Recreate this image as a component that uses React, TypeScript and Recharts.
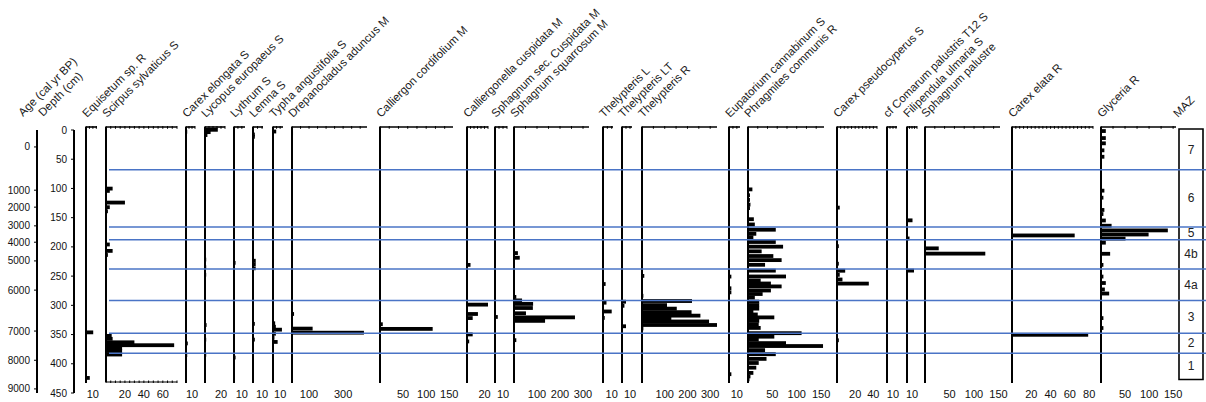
import React from "react";
import {
  BarChart,
  Bar,
  XAxis,
  YAxis,
  ReferenceArea,
  Scatter,
  ComposedChart,
} from "recharts";

const FONT = "'Liberation Sans', Arial, Helvetica, sans-serif";
const W = 1206;
const H = 402;
// shared vertical frame of the taxon panels
const PLOT_TOP = 127;
const PLOT_BOTTOM = 383;
const DEPTH_DOMAIN: [number, number] = [-5, 433];
// frame of the age / depth scales on the left
const AXIS_TOP = 130;
const AXIS_BOTTOM = 393;
const AXIS_DOMAIN: [number, number] = [0, 450];
const ZONE_BLUE = "#4a74c6";

// ---- macrofossil counts, [depth cm, value] ----
const equisetum = [[346, 10.5], [424, 5.5]];
const scirpus = [
  [101, 7], [105, 4], [125, 20], [133, 4], [140, 2], [197, 4], [208, 7], [215, 2], [263, 1],
  [354, 6], [359, 7], [365, 30], [370, 72], [375, 17], [380, 17], [386, 17], [392, 1], [398, 1],
];
const carexElongata = [[3, 2], [145, 1], [365, 3], [385, 2]];
const lycopus = [
  [0, 16], [4, 7], [9, 3], [137, 1], [222, 1.5], [235, 1.5], [248, 1.5], [334, 2], [359, 1.5], [385, 1.5],
];
const lythrum = [[228, 2], [390, 2]];
const lemna = [[8, 2], [12, 2], [224, 3], [230, 3], [237, 3], [332, 2], [359, 2]];
const typha = [[3, 4.5], [263, 1], [331, 3], [337, 4], [342, 12.5], [349, 4], [356, 2], [363, 6.5]];
const drepanocladus = [[6, 6], [315, 12], [333, 6], [340, 121], [347, 422]];
const calliergon = [[333, 6], [341, 114]];
const calliergonella = [[231, 4], [299, 24], [315, 12.5], [322, 6.5], [350, 6.5], [362, 2.5]];
const sphagnumCuspidata = [[320, 3.5]];
const sphagnumSquarrosum = [
  [211, 17], [219, 25], [286, 10], [292, 35], [298, 83], [305, 82], [314, 52], [321, 265], [327, 135], [360, 10],
];
const thelypterisL = [[264, 3], [296, 4], [311, 10], [322, 2]];
const thelypterisLT = [[294, 5], [301, 3], [336, 5]];
const thelypterisR = [
  [140, 4], [182, 4], [199, 4], [208, 4], [220, 4], [250, 10], [276, 4], [284, 6],
  [293, 220], [300, 110], [306, 153], [312, 218], [318, 257], [323, 129], [328, 295], [334, 330], [340, 6],
];
const eupatorium = [[251, 3], [271, 3], [278, 3], [418, 3]];
const phragmites = [
  [102, 9], [112, 4], [120, 4], [128, 5], [134, 4], [153, 12], [162, 14], [171, 57], [178, 17], [184, 11],
  [192, 57], [200, 72], [208, 28], [216, 52], [223, 69], [231, 35], [241, 57], [251, 78], [258, 26], [263, 47],
  [268, 69], [275, 47], [281, 30], [287, 14], [294, 23], [300, 23], [306, 23], [311, 11], [316, 20], [321, 54],
  [327, 23], [333, 22], [339, 26], [348, 110], [354, 54], [359, 22], [365, 78], [370, 154], [377, 35], [384, 57],
  [392, 38], [399, 22], [407, 17], [416, 11], [422, 5], [427, 3],
];
const carexPseudocyperus = [[133, 3], [199, 2], [229, 2], [241, 9], [248, 3], [256, 6], [263, 35], [360, 2]];
const comarum: number[][] = [];
const filipendula = [[99, 1.5], [128, 1.5], [154, 11], [185, 5], [240, 14]];
const sphagnumPalustre = [[202, 28], [211, 123]];
const carexElata = [[180, 65], [350, 79]];
const glyceria = [
  [2, 10], [14, 10], [23, 10], [35, 7], [46, 7], [104, 7], [116, 5], [137, 7], [144, 5], [155, 10],
  [164, 22], [172, 139], [179, 99], [186, 51], [193, 10], [204, 2], [212, 19], [231, 5], [251, 5],
  [262, 10], [273, 8], [280, 17], [322, 5], [339, 5],
];

const taxa = [
  "Equisetum sp. R", "Scirpus sylvaticus S", "Carex elongata S", "Lycopus europaeus S", "Lythrum S",
  "Lemna S", "Typha angustifolia S", "Drepanocladus aduncus M", "Calliergon cordifolium M",
  "Calliergonella cuspidata M", "Sphagnum sec. Cuspidata M", "Sphagnum squarrosum M", "Thelypteris L",
  "Thelypteris LT", "Thelypteris R", "Eupatorium cannabinum S", "Phragmites communis R",
  "Carex pseudocyperus S", "cf Comarum palustris T12 S", "Filipendula ulmaria S", "Sphagnum palustre",
  "Carex elata R", "Glyceria R",
];
const counts = [
  equisetum, scirpus, carexElongata, lycopus, lythrum, lemna, typha, drepanocladus, calliergon,
  calliergonella, sphagnumCuspidata, sphagnumSquarrosum, thelypterisL, thelypterisLT, thelypterisR,
  eupatorium, phragmites, carexPseudocyperus, comarum, filipendula, sphagnumPalustre, carexElata, glyceria,
];
const axisMax = [16, 75, 15, 25, 14, 11, 14, 440, 158, 24, 15, 326, 11.5, 12.5, 330, 14, 156, 44, 16.7, 20, 153, 84, 156];
const tickLabels = [
  [10], [20, 40, 60], [10], [20], [10], [10], [10], [100, 300], [50, 100, 150], [20], [10], [100, 200, 300],
  [10], [10], [100, 200, 300], [10], [50, 100, 150], [20, 40], [10], [10], [50, 100, 150], [20, 40, 60, 80],
  [50, 100, 150],
];
const tickStep = [5, 5, 5, 5, 5, 5, 5, 50, 20, 4, 5, 50, 5, 5, 50, 5, 20, 4, 5, 5, 20, 4, 25];

// age-depth model ticks
const ageLabels = [0, 1000, 2000, 3000, 4000, 5000, 6000, 7000, 8000, 9000];
const ageDepths = [29, 103, 132, 164, 192, 224, 274, 344, 394, 443];
const depthTicks = [0, 50, 100, 150, 200, 250, 300, 350, 400, 450];

// zone boundaries (cm) and names
const zoneBounds = [68, 166, 188, 238, 292, 348, 382];
const zoneNames = ["7", "6", "5", "4b", "4a", "3", "2", "1"];
const zoneBase = 427;

// panel placement: [left, right] px
const panelX = [
  [86, 97], [106, 177], [186, 195], [205, 225], [234, 245], [253, 263], [273, 283], [292, 367], [380, 453],
  [467, 488], [495, 507], [514, 589], [603, 613], [622, 632], [642, 717], [729, 740], [748, 824], [837, 877],
  [887, 897], [907, 917], [925, 1000], [1012, 1093], [1101, 1176],
];

const BAR_H = 3.8;
const DepthBar = (p: any) => {
  const w = Math.max(0, p.width || 0);
  if (!w) return <g />;
  return <rect x={p.x} y={p.y + p.height / 2 - BAR_H / 2} width={w} height={BAR_H} fill="#000" />;
};

// small downward tick under the top scale line
const TopTick = (p: any) => (
  <line x1={p.x} x2={p.x} y1={PLOT_TOP - 1} y2={PLOT_TOP + 1.8} stroke="#000" strokeWidth={1} />
);
// small upward tick on the base line
const BaseTick = (p: any) => (
  <line x1={p.x} x2={p.x} y1={PLOT_BOTTOM} y2={PLOT_BOTTOM - 2.5} stroke="#000" strokeWidth={1} />
);

function Panel({ i }: { i: number }) {
  const pad = 12;
  const [left, right] = panelX[i];
  const max = axisMax[i];
  const data = counts[i].map(([depth, value]) => ({ depth, value }));
  const minor: number[] = [];
  for (let v = 0; v <= max + 1e-6; v += tickStep[i]) minor.push(v);
  const withBase = i === 1;
  return (
    <div style={{ position: "absolute", left: left - pad, top: 0 }}>
      <BarChart
        width={right - left + pad * 2}
        height={H}
        layout="vertical"
        data={data}
        margin={{ top: PLOT_TOP - 1, right: pad, bottom: H - PLOT_BOTTOM - 1, left: pad - 1 }}
      >
        <XAxis
          xAxisId="top"
          orientation="top"
          type="number"
          domain={[0, max]}
          ticks={minor}
          interval={0}
          height={1}
          tick={TopTick}
          tickLine={false}
          axisLine={{ stroke: "#000", strokeWidth: 1.6 }}
          allowDataOverflow
        />
        {withBase && (
          <XAxis
            xAxisId="base"
            orientation="bottom"
            type="number"
            domain={[0, max]}
            ticks={minor}
            interval={0}
            height={1}
            tick={BaseTick}
            tickLine={false}
            axisLine={{ stroke: "#000", strokeWidth: 1.2 }}
            allowDataOverflow
          />
        )}
        <XAxis
          xAxisId="bottom"
          orientation="bottom"
          type="number"
          domain={[0, max]}
          ticks={tickLabels[i]}
          interval={0}
          height={1}
          axisLine={false}
          tickLine={false}
          tickSize={0}
          tickMargin={7}
          tick={{ fontSize: 11, fill: "#111", fontFamily: FONT }}
          allowDataOverflow
        />
        <YAxis
          type="number"
          dataKey="depth"
          domain={DEPTH_DOMAIN}
          width={1}
          tick={false}
          tickLine={false}
          axisLine={{ stroke: "#000", strokeWidth: 2 }}
          allowDataOverflow
        />
        <Bar xAxisId="top" dataKey="value" barSize={4} isAnimationActive={false} shape={DepthBar} />
      </BarChart>
    </div>
  );
}

function ScaleAxis({ x, width, ticks, format }: { x: number; width: number; ticks: number[]; format: (v: number) => string }) {
  const rows = ticks.map((depth) => ({ depth, v: 0 }));
  return (
    <div style={{ position: "absolute", left: x - width - 2, top: 0 }}>
      <ComposedChart
        width={width + 6}
        height={H}
        layout="vertical"
        data={rows}
        margin={{ top: AXIS_TOP, right: 4, bottom: H - AXIS_BOTTOM, left: 2 }}
      >
        <XAxis type="number" domain={[0, 1]} hide />
        <YAxis
          type="number"
          dataKey="depth"
          domain={AXIS_DOMAIN}
          ticks={ticks}
          interval={0}
          width={width}
          tickSize={3}
          tickMargin={4}
          tickFormatter={format}
          axisLine={{ stroke: "#000", strokeWidth: 2 }}
          tickLine={{ stroke: "#000" }}
          tick={{ fontSize: 10, fill: "#111", fontFamily: FONT }}
          allowDataOverflow
        />
      </ComposedChart>
    </div>
  );
}

// zone boundary drawn across the whole strip of panels
const ZoneRule = (p: any) => (
  <line x1={0} x2={W} y1={p.cy} y2={p.cy} stroke={ZONE_BLUE} strokeWidth={1.5} />
);

function ZoneLines() {
  const x0 = 109;
  const rows = zoneBounds.map((depth) => ({ depth, pos: 0 }));
  return (
    <div style={{ position: "absolute", left: x0, top: 0, pointerEvents: "none" }}>
      <ComposedChart
        width={W - x0}
        height={H}
        layout="vertical"
        data={rows}
        margin={{ top: PLOT_TOP, right: 0, bottom: H - PLOT_BOTTOM, left: 0 }}
      >
        <XAxis type="number" dataKey="pos" domain={[0, 1]} hide />
        <YAxis type="number" dataKey="depth" domain={DEPTH_DOMAIN} hide allowDataOverflow />
        <Scatter data={rows} dataKey="depth" isAnimationActive={false} shape={ZoneRule} />
      </ComposedChart>
    </div>
  );
}

const ZoneName = (p: any) => (
  <text
    x={p.cx}
    y={p.cy}
    textAnchor="middle"
    dominantBaseline="central"
    fontSize={12}
    fontFamily={FONT}
    fill="#222"
  >
    {p.payload.name}
  </text>
);

function ZoneColumn() {
  const left = 1179;
  const right = 1203;
  const edges = [0, ...zoneBounds, zoneBase];
  const labels = zoneNames.map((name, k) => ({ name, mid: (edges[k] + edges[k + 1]) / 2, pos: 0.5 }));
  return (
    <div style={{ position: "absolute", left: left - 2, top: 0 }}>
      <ComposedChart
        width={right - left + 4}
        height={H}
        layout="vertical"
        data={labels}
        margin={{ top: PLOT_TOP, right: 2, bottom: H - PLOT_BOTTOM, left: 2 }}
      >
        <XAxis type="number" dataKey="pos" domain={[0, 1]} hide />
        <YAxis type="number" dataKey="mid" domain={DEPTH_DOMAIN} hide allowDataOverflow />
        <ReferenceArea x1={0} x2={1} y1={-1.5} y2={zoneBase} fill="none" stroke="#000" strokeWidth={1.6} />
        <Scatter data={labels} dataKey="mid" isAnimationActive={false} shape={ZoneName} />
      </ComposedChart>
    </div>
  );
}

function Headers() {
  const items: { text: string; x: number; y: number }[] = [
    { text: "Age (cal yr BP)", x: 23, y: 117 },
    { text: "Depth (cm)", x: 43, y: 117 },
    ...taxa.map((text, i) => ({ text, x: panelX[i][0] + 1, y: 118 })),
    { text: "MAZ", x: 1178, y: 118 },
  ];
  return (
    <svg width={W} height={124} style={{ position: "absolute", left: 0, top: 0 }}>
      {items.map((it) => (
        <text
          key={it.text}
          x={it.x}
          y={it.y}
          transform={`rotate(-45 ${it.x} ${it.y})`}
          fontSize={11.5}
          fontFamily={FONT}
          fill="#1a1a1a"
        >
          {it.text}
        </text>
      ))}
    </svg>
  );
}

export default function App() {
  return (
    <div style={{ position: "absolute", left: 0, top: 0, width: W, height: H, background: "#fff", overflow: "hidden" }}>
      {taxa.map((_, i) => (
        <Panel key={i} i={i} />
      ))}
      <ScaleAxis x={37} width={35} ticks={ageDepths} format={(d) => String(ageLabels[ageDepths.indexOf(d)])} />
      <ScaleAxis x={74} width={40} ticks={depthTicks} format={(d) => String(d)} />
      <Headers />
      <ZoneColumn />
      <ZoneLines />
    </div>
  );
}
